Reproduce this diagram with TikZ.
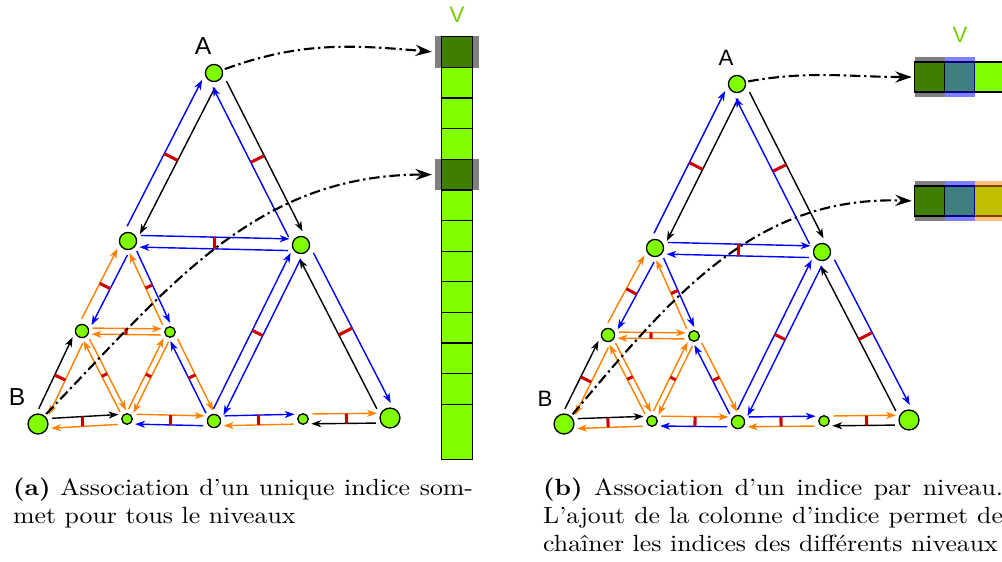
\documentclass[tikz,border=0pt]{standalone}
\usepackage{fontspec}
\newfontfamily\labelfont{Liberation Sans}
\usetikzlibrary{arrows.meta, calc, positioning}

\definecolor{vgreen}{HTML}{80FF00}
\definecolor{lvlblue}{HTML}{0000FF}
\definecolor{lvlorange}{HTML}{FF8000}
\definecolor{twinred}{HTML}{CC0000}
\definecolor{vtext}{HTML}{76CC00}

% two opposite half-edges between #1 and #2, each shifted to its own left
% #3 colour of #1->#2, #4 colour of #2->#1, #5 half gap
\newcommand\halfedges[5]{%
  \draw[hedge,#3] let \p1=($(#1.east)-(#1.center)$), \p2=($(#2.east)-(#2.center)$) in
    ($(#1)!\x1+1.5pt!(#2)!#5!90:(#2)$) -- ($(#2)!\x2+1pt!(#1)!#5!-90:(#1)$);
  \draw[hedge,#4] let \p1=($(#2.east)-(#2.center)$), \p2=($(#1.east)-(#1.center)$) in
    ($(#2)!\x1+1.5pt!(#1)!#5!90:(#1)$) -- ($(#1)!\x2+1pt!(#2)!#5!-90:(#2)$);
  \draw[twin] ($(#1)!.5!(#2)!#5!90:(#2)$) -- ($(#1)!.5!(#2)!#5!-90:(#2)$);
}
% caption block, slightly widened
\newcommand\captionblock[1]{\scalebox{1.1}[1]{\parbox[t]{6.27cm}{#1}}}

\begin{document}
\begin{tikzpicture}[
  x=0.015cm, y=-0.015cm,
  vtx/.style={circle, draw, fill=vgreen, inner sep=0pt, line width=0.55pt},
  vbig/.style={vtx, minimum size=8.5pt},
  vmid/.style={vtx, minimum size=7.3pt},
  vsmall/.style={vtx, minimum size=5.6pt},
  vtiny/.style={vtx, minimum size=4.5pt},
  hedge/.style={-{Stealth[length=4.2pt,width=3pt,inset=1.2pt]}, line width=0.6pt},
  twin/.style={twinred, line width=1.3pt},
  ptr/.style={-{Stealth[length=7pt,width=4.8pt,inset=2.4pt]}, line width=0.9pt,
              dash pattern=on 4.5pt off 1.6pt on 1pt off 1.6pt,
              shorten <=1pt, shorten >=1pt},
  cell/.style={draw, fill=vgreen, line width=0.55pt, inner sep=0pt},
  hl/.style={fill opacity=0.5, inner sep=0pt, draw=none},
  lbl/.style={font=\labelfont\fontsize{10.5}{12}\selectfont},
  vlbl/.style={font=\labelfont\fontsize{9.5}{11}\selectfont, text=vtext},
  captext/.style={inner sep=0pt, anchor=base west},
]
  \useasboundingbox (0,0) rectangle (1002,562);
  \clip (0,0) rectangle (1002,562);

  % (a) mesh
  \node[vmid]   (aA)  at (214,73)  {};
  \node[vbig]   (aB)  at (38,424)  {};
  \node[vbig]   (aC)  at (390,418) {};
  \node[vmid]   (aP1) at (128,241) {};
  \node[vmid]   (aP2) at (301,245) {};
  \node[vsmall] (aP3) at (214,421) {};
  \node[vsmall] (aQ1) at (82,331)  {};
  \node[vtiny]  (aQ2) at (170,332) {};
  \node[vtiny]  (aQ3) at (127,419) {};
  \node[vtiny]  (aQ4) at (303,419) {};
  \node[lbl] (laA) at (203,46) {A};
  \node[lbl] (laB) at (17,397) {B};

  % (b) mesh
  \node[vmid]   (bA)  at (737,84)  {};
  \node[vbig]   (bB)  at (564,424) {};
  \node[vbig]   (bC)  at (909,420) {};
  \node[vmid]   (bP1) at (655,248) {};
  \node[vmid]   (bP2) at (822,252) {};
  \node[vsmall] (bP3) at (738,422) {};
  \node[vsmall] (bQ1) at (608,335) {};
  \node[vtiny]  (bQ2) at (694,336) {};
  \node[vtiny]  (bQ3) at (652,421) {};
  \node[vtiny]  (bQ4) at (824,421) {};
  \node[lbl, font=\labelfont\fontsize{9.5}{11}\selectfont] (lbA) at (726,58) {A};
  \node[lbl, font=\labelfont\fontsize{9.5}{11}\selectfont] (lbB) at (545,399) {B};

  \foreach \pan in {a,b} {
    \halfedges{\pan A}{\pan P1}{black}{lvlblue}{3.2pt}
    \halfedges{\pan A}{\pan P2}{black}{lvlblue}{3.2pt}
    \halfedges{\pan P2}{\pan C}{lvlblue}{black}{3.2pt}
    \halfedges{\pan P1}{\pan P2}{lvlblue}{lvlblue}{2.5pt}
    \halfedges{\pan P2}{\pan P3}{lvlblue}{lvlblue}{2.5pt}
    \halfedges{\pan P1}{\pan Q1}{lvlblue}{lvlorange}{2.5pt}
    \halfedges{\pan B}{\pan Q1}{black}{lvlorange}{2.5pt}
    \halfedges{\pan P1}{\pan Q2}{lvlblue}{lvlorange}{1.6pt}
    \halfedges{\pan Q2}{\pan P3}{lvlorange}{lvlblue}{1.6pt}
    \halfedges{\pan B}{\pan Q3}{black}{lvlorange}{2.1pt}
    \halfedges{\pan Q3}{\pan P3}{lvlorange}{lvlblue}{2.1pt}
    \halfedges{\pan P3}{\pan Q4}{lvlblue}{lvlorange}{2.1pt}
    \halfedges{\pan Q4}{\pan C}{lvlorange}{black}{2.1pt}
    \halfedges{\pan Q1}{\pan Q2}{lvlorange}{lvlorange}{1.3pt}
    \halfedges{\pan Q1}{\pan Q3}{lvlorange}{lvlorange}{1.3pt}
    \halfedges{\pan Q2}{\pan Q3}{lvlorange}{lvlorange}{1.3pt}
  }

  % (a) index column
  \foreach \i in {1,...,12}
    \node[cell, minimum width=13.2pt, minimum height=13.07pt] (ca\i)
      at (456.7, {36.7+30.64*(\i-0.5)}) {};
  \node[cell, minimum width=13.2pt, minimum height=23.4pt] (ca13) at (456.7,431.9) {};
  \foreach \i in {1,5}
    \node[hl, fill=black, minimum width=18.8pt, minimum height=13.4pt] (ha\i) at (ca\i) {};
  \node[vlbl] (va) at (457,15) {V};

  % (b) index rows
  \foreach \r/\y in {1/77, 2/201}
    \foreach \c/\x in {1/929.7, 2/959.7, 3/989.7}
      \node[cell, minimum size=12.8pt] (cb\r\c) at (\x,\y) {};
  \foreach \r/\y in {1/77, 2/201} {
    \node[hl, fill=black, minimum width=12.8pt, minimum height=17.1pt] (hb\r1) at (cb\r1) {};
    \node[hl, fill=lvlblue, minimum width=12.8pt, minimum height=17.1pt] (hb\r2) at (cb\r2) {};
  }
  \node[hl, fill=lvlorange, minimum width=12.8pt, minimum height=17.1pt] (hb23) at (cb23) {};
  \node[vlbl] (vb) at (960,35) {V};

  % links vertex -> index
  \draw[ptr] (aA.20) to[out=20,in=175] (ha1.west);
  \draw[ptr] (aB.52) to[out=46,in=180] (ha5.west);
  \draw[ptr] (bA.14) to[out=10,in=180] (cb11.west);
  \draw[ptr] (bB.48) to[out=50,in=178] (cb21.west);

  \node[captext] (capa) at (12.7,495)
    {\captionblock{\textbf{(a)} Association d'un unique indice som-\linebreak met pour tous le niveaux}};
  \node[captext] (capb) at (542.7,495)
    {\captionblock{\textbf{(b)} Association d'un indice par niveau.\linebreak L'ajout de la colonne d'indice permet de\linebreak chaîner les indices des différents niveaux}};
\end{tikzpicture}
\end{document}
